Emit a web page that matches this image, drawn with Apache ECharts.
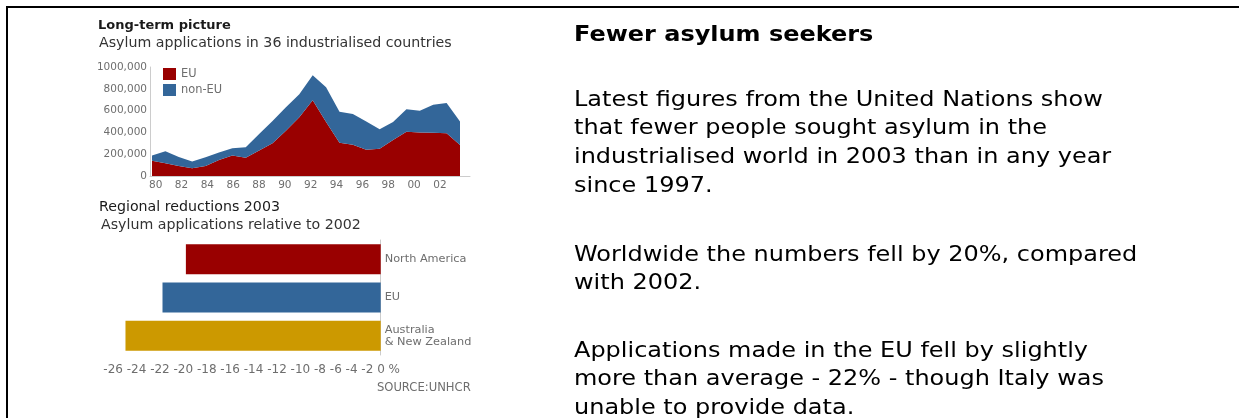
<!DOCTYPE html>
<html><head><meta charset="utf-8">
<script src="https://cdn.jsdelivr.net/npm/echarts@6/dist/echarts.min.js"></script>
<style>html,body{margin:0;padding:0;background:#fff;overflow:hidden}#c{width:1239px;height:418px}</style>
</head><body><div id="c"></div>
<script>
// ---- data ----
const years = ['1980','1981','1982','1983','1984','1985','1986','1987','1988','1989','1990','1991','1992','1993','1994','1995','1996','1997','1998','1999','2000','2001','2002','2003'];
const euApps = [141000,118000,92000,71000,92000,147000,187000,168000,235000,300000,415000,540000,695000,495000,305000,287000,240000,250000,331000,405000,400000,397000,393000,285000];
const nonEuApps = [46000,110000,83000,61000,80000,68000,68000,96000,150000,205000,215000,210000,230000,320000,285000,281000,260000,180000,164000,208000,198000,256000,276000,215000];
const xTickYears = [1980,1982,1984,1986,1988,1990,1992,1994,1996,1998,2000,2002];
const xTickLabels = ['80','82','84','86','88','90','92','94','96','98','00','02'];
const yTickLabels = ['0','200,000','400,000','600,000','800,000','1000,000'];
const regions = ['North America','EU','Australia\n& New Zealand'];
const changes = [-20, -22.4, -26.2];
const barTickLabels = ['-26','-24','-22','-20','-18','-16','-14','-12','-10','-8','-6','-4','-2','0','%'];
const para1 = ['Latest figures from the United Nations show','that fewer people sought asylum in the','industrialised world in 2003 than in any year','since 1997.'];
const para2 = ['Worldwide the numbers fell by 20%, compared','with 2002.'];
const para3 = ['Applications made in the EU fell by slightly','more than average - 22% - though Italy was','unable to provide data.'];

// ---- styles ----
const FF = 'DejaVu Sans';
const GREY = '#6e6e6e';
const AXIS = '#cccccc';
const barColors = ['#990000','#336699','#CC9900'];

const chart = echarts.init(document.getElementById('c'), null, {renderer:'canvas'});

const txt = (lines, y, bold) => ({
  type:'text', x:0, y:y,
  style:{text: lines.join('\n'), fill:'#000', font:(bold?'bold ':'')+'21.5px "DejaVu Sans"', lineHeight:28.6, verticalAlign:'top'}
});
const hidden = {axisLine:{show:false}, axisTick:{show:false}, axisLabel:{show:false}, splitLine:{show:false}};

chart.setOption({
  animation:false,
  title:[
    {text:'Long-term picture', left:98, top:19, padding:0, textStyle:{fontFamily:FF, fontSize:13, fontWeight:'bold', color:'#1a1a1a'}},
    {text:'Asylum applications in 36 industrialised countries', left:99, top:36, padding:0, textStyle:{fontFamily:FF, fontSize:14.2, fontWeight:'normal', color:'#333'}},
    {text:'Regional reductions 2003', left:99, top:200, padding:0, textStyle:{fontFamily:FF, fontSize:14.2, fontWeight:'normal', color:'#1a1a1a'}},
    {text:'Asylum applications relative to 2002', left:101, top:218, padding:0, textStyle:{fontFamily:FF, fontSize:14.2, fontWeight:'normal', color:'#333'}}
  ],
  legend:{
    data:['EU','non-EU'], left:163, top:68, orient:'vertical', icon:'rect',
    itemWidth:13, itemHeight:12, itemGap:4, padding:0, selectedMode:false,
    textStyle:{fontFamily:FF, fontSize:11.4, color:GREY}
  },
  grid:[
    {left:152, top:67, width:308, height:109},   // area data
    {left:150, top:67, width:320, height:109},   // area axes
    {left:102, top:240, width:340, height:115}   // bars
  ],
  xAxis:[
    Object.assign({type:'category', gridIndex:0, data:years, boundaryGap:false}, hidden),
    {type:'value', gridIndex:1, min:1979.56, max:2004.33, position:'bottom',
     axisLine:{show:true, onZero:false, lineStyle:{color:AXIS, width:1}}, axisTick:{show:false}, splitLine:{show:false},
     axisLabel:{customValues:xTickYears, formatter:v=>xTickLabels[xTickYears.indexOf(v)], margin:4, fontFamily:FF, fontSize:10.5, color:GREY}},
    {type:'value', gridIndex:2, min:-28.61, max:6.29, position:'bottom', offset:3,
     axisLine:{onZero:false, lineStyle:{color:AXIS, width:1}}, axisTick:{show:false}, axisLabel:{show:false}, splitLine:{show:false}}
  ],
  yAxis:[
    Object.assign({type:'value', gridIndex:0, min:0, max:1000000}, hidden),
    {type:'value', gridIndex:1, min:0, max:1000000, interval:200000,
     axisLine:{show:true, onZero:false, lineStyle:{color:AXIS, width:1}}, axisTick:{show:false}, splitLine:{show:false},
     axisLabel:{formatter:v=>yTickLabels[Math.round(v/200000)], margin:3, fontFamily:FF, fontSize:10.5, color:GREY}},
    {type:'category', gridIndex:2, data:regions, inverse:true, position:'right', offset:-61.3,
     axisLine:{show:true, onZero:false, lineStyle:{color:AXIS, width:1}}, axisTick:{show:false}, splitLine:{show:false},
     axisLabel:{margin:4, fontFamily:FF, fontSize:11.3, color:GREY, lineHeight:11.5, align:'left'}}
  ],
  series:[
    {name:'EU', type:'line', xAxisIndex:0, yAxisIndex:0, stack:'apps', data:euApps, symbol:'none',
     lineStyle:{width:0}, areaStyle:{color:'#990000', opacity:1}, itemStyle:{color:'#990000'}},
    {name:'non-EU', type:'line', xAxisIndex:0, yAxisIndex:0, stack:'apps', data:nonEuApps, symbol:'none',
     lineStyle:{width:0}, areaStyle:{color:'#336699', opacity:1}, itemStyle:{color:'#336699'}},
    {name:'change', type:'bar', xAxisIndex:2, yAxisIndex:2, barWidth:30,
     data:changes.map((v,i)=>({value:v, itemStyle:{color:barColors[i]}}))}
  ],
  graphic:[
    {type:'polyline', shape:{points:[[7,420],[7,7],[1240,7]]}, style:{stroke:'#000', lineWidth:2, fill:null}},
    {type:'text', x:103.3, y:369.5, style:{text:barTickLabels.join(' '), font:'12px "DejaVu Sans"', fill:GREY, verticalAlign:'middle'}},
    {type:'text', x:470.7, y:387.5, style:{text:'SOURCE:UNHCR', font:'11.6px "DejaVu Sans"', fill:GREY, align:'right', verticalAlign:'middle'}},
    {type:'group', x:574, y:0, scaleX:1.115, children:[
      txt(['Fewer asylum seekers'], 21, true),
      txt(para1, 86, false),
      txt(para2, 241, false),
      txt(para3, 337, false)
    ]}
  ]
});
</script></body></html>
